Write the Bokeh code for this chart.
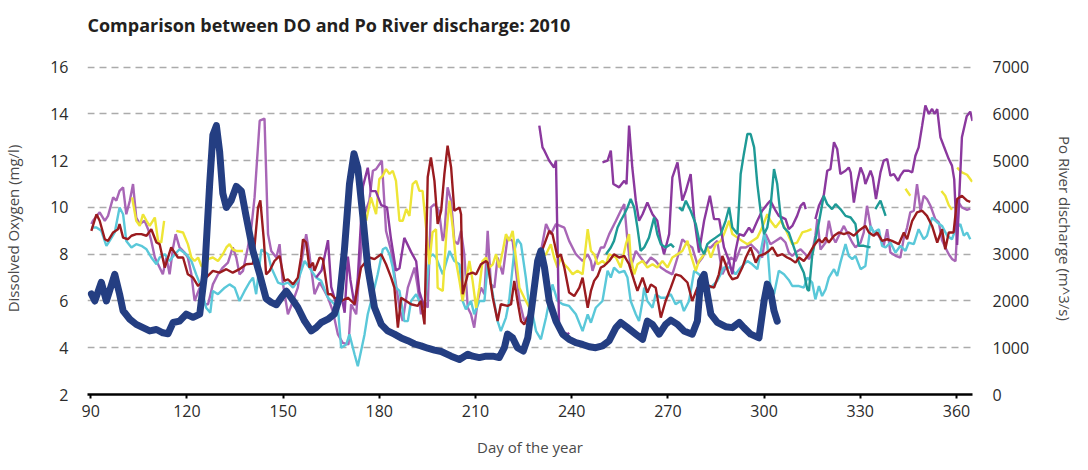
import numpy as np
from bokeh.plotting import figure
from bokeh.models import Range1d, LinearAxis, FixedTicker, Title
from bokeh.embed import file_html
from bokeh.resources import INLINE

# ---------------- data ----------------
x_ticks = [90, 120, 150, 180, 210, 240, 270, 300, 330, 360]
do_ticks = [2, 4, 6, 8, 10, 12, 14, 16]
grid_ticks = [4, 6, 8, 10, 12, 14, 16]
q_ticks = [0, 1000, 2000, 3000, 4000, 5000, 6000, 7000]

# Po River discharge (m^3/s)
q_day = [90.2, 91.3, 93.3, 94.9, 97.5, 99.0, 100.1, 102.2, 104.2, 106.3, 108.4, 110.5, 112.5, 114.1, 115.7,
         117.7, 119.8, 121.9, 124.0, 125.5, 127.1, 128.1, 129.2, 130.2, 131.2, 132.3, 133.8, 135.4, 137.0,
         138.5, 140.6, 142.7, 144.7, 146.3, 147.9, 149.4, 151.0, 152.5, 154.6, 156.7, 158.8, 160.3, 161.9,
         164.0, 166.0, 167.6, 169.1, 170.7, 172.1, 173.3, 174.9, 176.4, 178.5, 180.6, 182.6, 184.7, 186.8,
         188.9, 191.0, 193.0, 195.1, 197.2, 199.3, 202.4, 205.0, 207.6, 209.1, 211.2, 213.3, 215.4, 217.4,
         219.0, 220.0, 221.6, 223.1, 224.9, 226.3, 227.8, 229.4, 230.4, 231.5, 233.0, 235.1, 237.2, 239.2,
         241.3, 243.4, 245.5, 247.5, 249.6, 251.7, 253.8, 255.3, 257.4, 260.0, 262.1, 263.6, 265.2, 267.3,
         269.3, 270.9, 273.0, 275.0, 277.6, 279.2, 280.2, 281.3, 282.3, 283.4, 285.4, 288.0, 290.1, 292.2,
         293.7, 295.8, 298.4, 300.0, 301.0, 302.0, 303.1, 304.1]
q_val = [2150, 2000, 2400, 2000, 2570, 2150, 1790, 1610, 1500, 1430, 1360, 1390, 1320, 1300, 1540,
         1570, 1720, 1650, 1720, 2570, 4500, 5550, 5750, 5200, 4300, 4000, 4150, 4450, 4350,
         3800, 3070, 2570, 2050, 1970, 1920, 2070, 2210, 2070, 1860, 1570, 1360, 1430, 1540,
         1610, 1720, 2070, 3070, 4500, 5150, 4850, 3790, 2720, 1860, 1500, 1360, 1290, 1210,
         1150, 1080, 1040, 990, 950, 920, 820, 750, 860, 820, 790, 820, 820, 790,
         1000, 1290, 1210, 1000, 930, 1210, 2000, 2860, 3070, 2720, 2000, 1570, 1290, 1180,
         1110, 1070, 1020, 1000, 1040, 1150, 1430, 1540, 1430, 1290, 1180, 1570, 1500, 1290,
         1500, 1590, 1500, 1360, 1290, 1570, 2430, 2570, 2150, 1720, 1540, 1450, 1430, 1540,
         1430, 1290, 1210, 2000, 2360, 2210, 1790, 1570]

# Dissolved oxygen (mg/l), station series; None marks a gap
red_day = [90.2, 91.8, 92.8, 94.4, 95.4, 97.0, 98.5, 99.0, 100.1, 101.6, 102.7, 104.2, 105.8, 107.4, 108.9,
           110.5, 111.5, 113.1, 115.1, 117.2, 118.8, 120.3, 121.9, 123.5, 126.0, 128.1, 130.2, 132.3, 134.3,
           136.4, 138.5, 140.6, 142.2, 142.9, 144.0, 144.7, 145.8, 147.3, 148.9, 150.4, 151.5, 153.1, 154.6,
           155.6, 156.2, 157.2, 158.2, 159.3, 159.8, 161.4, 162.4, 164.0, 165.0, 166.0, 168.1, 170.2, 172.3,
           174.3, 176.9, 178.5, 180.6, 182.1, 183.7, 184.7, 185.8, 186.8, 188.4, 189.9, 192.0, 193.0, 194.1,
           195.1, 196.1, 197.2, 198.2, 199.3, 200.3, 201.3, 202.4, 203.4, 205.0, 205.5, 206.0, 207.6, 209.1,
           210.2, 211.7, 213.3, 213.8, 215.4, 216.9, 217.9, 220.0, 221.1, 222.1, 223.1, 224.2, 225.2, 226.8,
           227.8, 229.4, 230.9, 233.0, 234.0, 235.6, 236.6, 237.7, 239.2, 240.8, 242.4, 243.4, 245.0, 246.0,
           247.0, 248.1, 249.1, 250.1, 251.7, 253.2, 254.8, 256.4, 257.9, 259.5, 260.5, 262.1, 263.6, 264.7,
           266.2, 267.8, 269.3, 270.9, 272.4, 274.0, 276.1, 277.6, 279.2, 280.8, 282.8, 284.4, 285.9, 287.0,
           288.0, 289.1, 290.1, 291.7, 293.2, 294.3, 295.8, 297.4, 298.4, 300.0, 301.5, 302.6, 304.1, 305.7,
           307.2, 308.3, 309.8, 310.9, 312.4, 314.0, 315.5, 317.1, 318.1, 319.2, 320.2, 321.8, 323.3, 324.9,
           326.4, 328.0, 329.5, 331.6, 332.7, 334.2, 335.3, 336.8, 338.4, 339.9, 342.0, 343.6, 344.6, 346.2,
           347.7, 349.3, 350.8, 352.4, 354.0, 355.5, 356.5, 357.6, 359.1, 360.2, 361.7, 363.3, 364.3]
red_do = [9.0, 9.71, 9.43, 8.64, 8.57, 8.93, 9.07, 9.29, 8.71, 8.64, 8.79, 8.86, 8.86, 8.79, 9.07,
          8.5, 8.43, 7.43, 8.29, 7.86, 7.86, 7.14, 7.0, 6.64, 7.0, 7.29, 7.21, 7.36, 7.21,
          7.36, 7.57, 7.6, 10.0, 10.3, 8.6, 7.14, 7.29, 7.71, 7.93, 6.86, 6.93, 6.71, 7.0,
          7.86, 8.64, 8.5, 7.43, 7.64, 7.29, 7.86, 7.79, 6.29, 6.29, 6.14, 6.0, 6.14, 5.86,
          7.43, 7.86, 7.79, 8.0, 7.57, 7.0, 6.57, 4.86, 6.14, 6.0, 5.86, 5.79, 6.0, 5.0,
          11.29, 12.14, 11.14, 9.3, 9.86, 11.43, 12.64, 11.71, 9.86, 10.0, 9.71, 6.29, 7.14, 7.21,
          7.14, 7.57, 7.71, 7.64, 6.14, 5.14, 5.86, 5.79, 5.86, 6.86, 6.0, 5.14, 5.0, 5.43,
          6.29, 8.0, 8.21, 9.0, 8.86, 7.86, 8.0, 7.43, 6.36, 6.21, 6.57, 7.0, 5.71, 6.43,
          6.86, 7.07, 7.43, 7.5, 7.71, 8.0, 7.86, 7.93, 7.57, 6.86, 6.43, 7.0, 6.36, 6.71,
          6.57, 5.29, 6.0, 6.57, 7.14, 7.07, 6.79, 6.0, 6.57, 6.64, 6.64, 6.57, 7.14, 7.93,
          7.57, 7.14, 6.93, 7.0, 7.43, 7.86, 8.29, 7.64, 7.93, 8.0, 8.14, 8.29, 7.93, 8.0,
          7.86, 7.79, 7.64, 7.86, 7.71, 8.0, 8.36, 8.64, 8.5, 8.71, 8.5, 8.79, 8.93, 8.86,
          8.93, 8.79, 9.0, 9.21, 8.93, 8.79, 8.93, 8.57, 8.64, 8.57, 8.43, 8.93, 8.64, 9.43,
          9.79, 9.86, 9.64, 9.21, 8.5, 9.07, 8.21, 8.93, 8.93, 10.36, 10.5, 10.29, 10.24]

cyan_day = [90.2, 91.8, 93.3, 94.9, 95.9, 97.5, 99.0, 100.1, 101.1, 102.7, 104.2, 105.8, 107.4, 108.9, 110.5,
            111.5, 113.1, 114.6, 116.2, 117.7, 119.8, 121.4, 122.9, 124.5, 126.0, 127.3, 128.1, 129.7, 131.8,
            133.3, 134.9, 136.4, 138.0, 139.5, 140.6, 141.6, 143.2, 145.3, 146.3, 148.4, 149.9, 151.5, 153.1,
            154.6, 156.7, 158.2, 160.3, 161.9, 164.0, 165.0, 167.1, 168.1, 169.7, 170.7, 172.3, 173.3, 175.4,
            176.4, 178.0, 179.5, 181.1, 182.1, 183.2, 184.2, 185.2, 186.3, 187.8, 188.9, 189.9, 191.5, 192.5,
            194.1, 195.6, 196.6, 197.7, 199.8, 201.9, 203.4, 205.0, 206.0, 207.0, 208.6, 209.6, 211.2, 212.8,
            213.8, 215.4, 216.9, 217.9, 219.5, 220.5, 222.1, 223.1, 224.2, 225.7, 226.8, 227.8, 228.9, 230.4,
            232.0, 234.0, 235.6, 237.2, 239.2, 241.3, 243.4, 245.0, 246.0, 247.5, 249.6, 251.2, 252.2, 253.2,
            254.8, 256.4, 257.4, 258.4, 260.0, 261.0, 262.1, 262.6, 263.6, 265.2, 266.2, 267.8, 269.3, 270.9,
            272.4, 274.0, 275.0, 276.6, 278.2, 279.7, 281.3, 283.4, 285.4, 287.5, 289.6, 291.1, 292.7, 294.8,
            296.3, 297.9, 300.0, 301.0, 302.0, 303.1, 304.6, 306.2, 307.7, 308.8, 310.9, 312.4, 313.5, 315.0,
            316.0, 317.1, 318.1, 319.2, 320.2, 321.8, 322.8, 323.8, 325.4, 326.4, 327.5, 328.5, 330.1, 331.6,
            333.2, 334.2, 335.8, 336.8, 337.9, 339.4, 341.0, 342.5, 344.1, 345.1, 346.7, 348.2, 349.8, 350.8,
            352.4, 354.0, 355.5, 357.1, 358.6, 359.7, 361.2, 362.3, 363.3, 364.3]
cyan_do = [9.14, 9.14, 9.0, 8.36, 8.57, 8.93, 10.0, 9.71, 8.57, 8.29, 8.43, 8.36, 8.21, 7.86, 7.57,
           7.86, 8.0, 7.71, 8.0, 8.21, 8.0, 7.71, 7.14, 6.57, 5.71, 5.5, 6.43, 6.29, 6.57,
           6.71, 6.57, 6.0, 6.43, 6.79, 7.0, 6.29, 8.2, 8.0, 7.43, 6.79, 6.71, 6.79, 6.57,
           6.86, 7.71, 7.43, 7.0, 6.86, 6.14, 6.0, 5.71, 4.0, 4.14, 4.57, 3.71, 3.21, 4.57,
           5.43, 6.29, 7.14, 8.21, 8.29, 8.0, 7.43, 6.57, 6.43, 5.14, 5.14, 6.0, 6.29, 6.0,
           5.71, 7.86, 8.0, 7.86, 7.14, 8.14, 7.71, 7.57, 6.0, 5.64, 6.0, 5.43, 6.0, 6.0,
           7.57, 6.29, 5.14, 4.71, 5.29, 6.0, 8.14, 8.64, 8.43, 7.0, 5.71, 5.43, 4.71, 4.36,
           5.29, 6.71, 6.0, 5.86, 5.79, 5.43, 4.71, 5.43, 5.07, 5.71, 6.0, 7.29, 7.0, 7.43,
           7.21, 7.29, 7.0, 6.0, 5.43, 5.14, 6.0, 6.57, 6.0, 5.71, 6.29, 6.14, 6.14, 6.29,
           5.86, 6.0, 5.57, 6.0, 7.29, 7.14, 6.86, 6.57, 6.86, 7.43, 7.43, 7.14, 7.43, 7.71,
           7.57, 7.36, 8.86, 8.43, 6.57, 6.29, 7.29, 7.14, 6.9, 6.64, 6.64, 6.57, 7.0, 6.79,
           6.07, 6.64, 6.21, 6.5, 7.0, 7.36, 7.07, 7.64, 8.43, 7.93, 7.79, 7.93, 7.36, 7.5,
           9.21, 8.93, 9.07, 8.36, 8.29, 8.5, 8.07, 8.36, 8.14, 8.5, 8.43, 9.07, 8.64, 8.79,
           9.57, 9.36, 9.21, 8.79, 8.64, 9.07, 9.29, 8.79, 8.93, 8.64]

orchid_day = [90.2, 90.7, 92.8, 94.4, 95.4, 97.0, 98.0, 99.0, 100.1, 101.1, 102.2, 103.2, 104.2, 105.3, 106.8,
              107.9, 108.9, 110.0, 111.0, 112.5, 113.6, 114.6, 115.7, 116.5, 117.7, 119.3, 120.3, 121.4, 122.4,
              124.0, 125.0, 126.6, 128.1, 129.7, 131.2, 132.8, 134.3, 135.4, 136.4, 137.5, 139.0, 140.1, 141.1,
              142.7, 144.2, 145.3, 146.3, 147.9, 148.9, 149.9, 151.0, 151.5, 153.1, 154.6, 155.6, 157.2, 158.2,
              159.8, 161.4, 162.9, 164.0, 165.5, 167.1, 168.6, 170.4, 171.2, 172.8, 174.3, 175.4, 176.9, 178.0,
              179.0, 180.8, 182.1, 183.7, 185.2, 186.3, 187.3, 188.9, 191.0, 192.0, 193.0, 194.1, 195.1, 196.1,
              197.2, 198.6, 199.8, 200.3, 201.3, 202.4, 203.4, 204.5, 205.5, 206.5, 207.6, 208.6, 209.6, 210.7,
              211.7, 212.8, 213.8, 214.8, 215.9, 216.9, 218.5, 220.0, 221.6, 223.7, 225.2, 226.8, 228.9, 232.0,
              233.5, 235.1, 237.7, 239.2, 241.3, 243.4, 245.0, 246.0, 246.5, 247.5, 249.1, 250.1, 251.7, 253.8,
              255.3, 256.4, 257.4, 258.4, 260.0, 261.5, 263.1, 264.7, 266.2, 267.8, 269.3, 271.4, 273.0, 274.5,
              276.1, 277.6, 279.2, 280.8, 282.3, 283.4, 285.4, 287.0, 288.5, 289.6, 291.1, 292.7, 294.3, 295.8,
              297.9, 299.4, 300.5, 302.0, 303.6, 305.2, 306.7, 307.7, 308.8, 309.8, 311.4, 312.9, 314.0, 315.0,
              316.0, 316.6, 317.6, 319.2, 320.2, 321.2, 322.3, 323.3, 324.9, 325.9, 327.5, 328.5, 330.1, 331.1,
              332.1, 333.2, 334.2, 335.8, 337.3, 338.4, 339.4, 341.0, 342.5, 343.6, 344.6, 345.6, 346.7, 347.7,
              348.8, 349.8, 350.8, 351.9, 353.4, 354.5, 355.5, 356.5, 357.6, 358.6, 359.7, 360.7, 361.7, 363.3,
              364.3]
orchid_do = [9.29, 9.43, 9.79, 9.43, 9.64, 10.43, 10.29, 10.71, 10.86, 9.71, 10.29, 11.0, 9.57, 9.29, 9.43,
             9.07, 8.57, 7.86, 7.57, 7.14, 7.86, 7.14, 8.29, 8.86, 8.29, 8.07, 7.86, 7.14, 6.0,
             6.57, 5.86, 5.86, 6.71, 7.14, 7.43, 7.64, 8.29, 7.86, 7.14, 7.29, 8.29, 9.14, 10.43,
             13.71, 13.8, 8.86, 8.14, 7.86, 8.43, 6.79, 5.86, 5.43, 6.0, 6.57, 7.57, 8.86, 8.0,
             6.29, 6.79, 6.43, 6.14, 5.57, 4.57, 4.21, 4.14, 5.86, 5.43, 8.14, 9.71, 10.29, 11.57,
             11.64, 12.0, 9.0, 8.14, 6.71, 5.71, 5.14, 6.57, 7.43, 6.57, 5.43, 6.0, 5.71, 10.0,
             10.14, 9.86, 8.57, 8.86, 10.86, 10.29, 8.57, 8.43, 9.0, 8.0, 5.71, 5.43, 4.86, 6.0,
             6.57, 6.29, 9.0, 6.71, 6.57, 7.86, 7.14, 8.71, 8.57, 6.0, 5.14, 5.43, 7.0, 9.29,
             8.86, 9.29, 9.14, 8.57, 8.0, 7.71, 8.0, 7.71, 7.29, 7.71, 8.29, 8.29, 8.86, 9.43,
             9.86, 10.14, 8.57, 7.43, 8.14, 7.86, 7.57, 7.86, 7.71, 7.43, 7.29, 7.14, 7.86, 8.64,
             8.43, 8.29, 7.57, 7.86, 8.29, 8.29, 8.57, 7.14, 7.57, 7.86, 7.71, 8.29, 8.29, 8.43,
             8.14, 7.86, 8.86, 8.43, 8.57, 8.71, 8.5, 8.07, 7.93, 8.07, 8.21, 8.0, 7.79, 8.07,
             8.79, 9.5, 8.2, 8.5, 9.43, 8.79, 8.5, 8.79, 9.21, 8.93, 8.5, 8.29, 8.5, 8.93,
             10.07, 9.21, 8.93, 8.79, 8.36, 9.07, 8.07, 7.93, 7.86, 8.71, 9.14, 9.79, 9.86, 11.0,
             9.86, 10.5, 10.36, 10.07, 9.5, 9.36, 8.6, 8.3, 8.0, 7.8, 7.7, 10.2, 10.0, 9.9,
             9.95]

purple_day = [160.3, 162.0, 164.0, 165.0, 166.5, 167.8, 169.2, 170.2, 171.0, 172.3, 173.3, 174.9, 176.4, 177.4,
              178.9, 180.6, 182.4, 183.6, 185.2, 186.3, 187.8, 189.9, 191.5, 192.5, 194.1, None,
              229.9, 230.9, 231.5, 233.0, 234.5, 235.1, 236.1, 237.2, 238.7, 239.2, None,
              249.6, 251.2, 252.2, 253.0, 254.8, 256.4, 257.1, 257.9, 258.9, 260.0, 261.0, 262.1, 263.6, 265.2,
              266.7, 267.8, 268.8, 270.4, 271.4, 273.0, 274.5, 275.6, 277.1, 278.2, 279.7, 281.3, 283.1, 284.4,
              286.0, 287.5, 289.1, 290.1, 291.1, 292.2, 293.7, 295.3, 296.3, 297.9, 299.4, 301.0, 302.0, 303.6,
              304.6, 306.7, 307.7, 308.8, 310.3, 311.4, 312.4, 313.0, None,
              316.0, 317.1, 318.6, 319.7, 320.7, 321.8, 322.8, 323.8, 325.4, 326.4, 327.0, 328.0, 329.0, 330.1,
              331.1, 331.6, 333.2, 333.9, 334.9, 336.3, 337.3, 338.4, 339.4, 340.5, 341.8, 342.5, 343.6, 345.1,
              346.2, 347.2, 348.2, 349.3, 350.3, 351.4, 352.4, 353.2, 354.0, 355.0, 356.0, 357.6, 358.6, 359.3,
              360.2, 361.7, 363.2, 364.3, 365.0]
purple_do = [7.0, 7.3, 8.6, 6.6, 5.9, 6.5, 5.5, 7.9, 6.9, 5.8, 7.0, 10.9, 11.7, 10.7,
             10.7, 10.1, 10.0, 8.7, 7.3, 7.4, 8.7, 8.1, 7.7, 6.4, 5.7, None,
             13.5, 12.57, 12.43, 12.0, 11.71, 12.0, 4.71, 4.71, 4.57, 4.64, None,
             11.93, 12.0, 12.43, 11.0, 10.86, 11.14, 11.0, 13.5, 11.71, 10.29, 9.43, 9.71, 10.21, 9.71,
             9.43, 8.57, 8.0, 8.86, 11.29, 11.93, 10.29, 10.71, 11.43, 9.57, 8.07, 9.43, 10.5, 9.5,
             9.5, 8.29, 7.71, 7.14, 8.14, 8.86, 8.79, 9.14, 8.93, 9.43, 9.86, 10.14, 10.29, 9.86,
             9.64, 9.5, 9.07, 9.21, 9.64, 10.07, 10.21, 9.93, None,
             9.5, 10.07, 10.5, 11.57, 11.64, 12.79, 12.5, 11.43, 11.57, 11.71, 11.5, 10.21, 11.07, 11.71,
             11.36, 11.0, 11.57, 11.29, 10.36, 11.5, 12.0, 12.07, 11.36, 11.43, 11.14, 11.36, 11.57, 11.57,
             11.5, 12.21, 12.57, 13.5, 14.36, 14.0, 14.21, 14.0, 14.21, 13.0, 12.64, 12.07, 11.79, 11.2,
             8.4, 13.0, 13.9, 14.1, 13.7]

yellow_day = [102.9, 104.2, 105.3, 106.3, 107.4, 108.4, 110.0, 111.0, 112.0, 112.9, None,
              116.7, 118.8, 120.3, 121.4, 122.4, 123.5, 124.5, 125.5, 126.6, 128.1, 129.7, 131.2, 132.3, 133.3,
              134.3, 135.4, 136.4, 137.5, None,
              175.9, 177.4, 179.0, 180.0, 181.1, 182.1, 183.2, 184.2, 185.2, 186.3, 187.3, 188.4, 189.4, 190.4,
              191.5, 192.5, 193.5, 194.6, 195.6, 196.6, 197.7, 198.2, 199.8, 200.9, 201.9, 202.9, 203.9, 205.0,
              206.0, 207.0, 208.1, 209.1, 210.2, 211.2, 212.2, 213.3, 214.3, 215.4, 216.4, 217.4, 218.5, 219.5,
              220.5, 221.6, 222.6, 223.7, 225.2, 226.8, 227.8, 228.9, 230.4, 232.0, 233.5, 234.5, 235.6, 236.6,
              237.7, 238.7, 240.3, 241.8, 243.4, 245.0, 246.0, 247.0, 248.1, 249.6, 250.7, 251.7, 253.8, 255.3,
              256.9, 257.9, 258.4, 259.5, 260.5, 262.1, 263.6, 265.2, 266.7, 268.3, 269.9, 271.4, 273.0, 274.5,
              276.1, 277.1, 278.7, 279.7, 281.3, 282.3, 283.4, 284.9, 286.5, 287.5, 289.1, 290.1, 291.7, 293.2,
              294.8, 296.3, 297.9, 299.4, 301.0, 302.0, 303.6, 305.2, 306.7, 308.8, 310.3, 311.9, 313.5, 314.8,
              None, 344.1, 345.6, None, 355.3, 356.5, 357.6, 358.6, None, 360.2, 361.7, 363.3, 364.9]
yellow_do = [10.43, 9.43, 9.21, 9.71, 9.43, 9.21, 9.57, 8.57, 8.5, 9.43, None,
             9.0, 8.93, 8.43, 7.86, 7.71, 7.86, 7.5, 7.43, 7.79, 7.86, 7.71, 8.0, 8.29, 8.43,
             8.21, 8.14, 8.14, 8.14, None,
             9.43, 10.43, 9.71, 11.21, 11.36, 11.64, 11.43, 11.57, 11.14, 9.43, 9.43, 9.93, 9.64, 11.0,
             11.14, 10.71, 10.71, 9.14, 7.57, 8.93, 9.07, 6.57, 6.43, 8.86, 10.29, 9.14, 7.71, 6.86,
             6.0, 6.86, 7.71, 6.86, 5.71, 6.57, 7.71, 7.86, 7.43, 7.57, 8.0, 7.43, 8.14, 8.86,
             8.57, 9.0, 7.86, 6.57, 6.14, 5.71, 6.29, 7.43, 7.86, 8.0, 8.43, 7.86, 7.43, 7.86,
             7.57, 7.43, 7.14, 7.29, 7.14, 9.07, 8.14, 8.0, 7.57, 7.71, 7.57, 8.0, 7.86, 7.43,
             8.43, 8.86, 7.86, 7.14, 7.57, 7.71, 7.43, 7.57, 7.43, 7.71, 7.43, 7.86, 8.0, 8.14,
             8.57, 8.0, 7.29, 7.71, 8.0, 8.29, 7.86, 8.43, 8.57, 8.86, 9.43, 8.86, 8.71, 8.57,
             8.43, 8.57, 8.71, 9.14, 9.71, 9.43, 9.14, 9.43, 9.07, 8.43, 8.5, 8.93, 9.0, 9.07,
             None, 10.8, 10.5, None, 10.7, 10.5, 10.1, 9.9, None, 11.7, 11.5, 11.4, 11.1]

teal_day = [250.7, 252.2, 253.2, 254.3, 255.3, 256.4, 257.4, 258.4, 259.5, 260.5, 261.5, 262.6, 264.1, 265.7,
            266.7, 267.8, 269.3, 270.9, 271.9, None,
            273.5, 274.5, 275.6, 277.1, 278.7, 280.2, 281.3, 282.3, 283.4, 284.9, 286.5, 288.0, 289.1, 290.1,
            291.7, 292.7, 293.7, 294.8, 295.8, 296.9, 297.9, 298.9, 300.0, 301.0, 302.0, 303.1, 304.1, 305.2,
            306.2, 307.7, 308.8, 310.9, 312.4, 313.5, 314.0, 315.0, 317.1, 318.6, 319.7, 321.2, 322.3, 323.8,
            325.4, 327.0, 328.5, 329.5, 331.1, 333.2, None, 334.7, 336.3, 337.9]
teal_do = [8.0, 8.29, 8.57, 9.14, 9.43, 9.71, 10.0, 10.36, 10.0, 9.14, 8.14, 8.29, 8.71, 9.57,
           8.86, 8.43, 8.29, 8.43, 8.29, None,
           10.0, 9.86, 10.29, 9.86, 9.29, 8.29, 8.0, 8.43, 8.57, 8.71, 8.86, 9.43, 10.0, 9.14,
           8.86, 11.43, 12.29, 13.14, 13.14, 12.57, 11.0, 9.86, 8.86, 9.14, 10.0, 11.64, 11.0, 9.57,
           9.14, 8.93, 8.5, 7.64, 7.21, 6.5, 6.43, 7.93, 9.36, 10.5, 10.14, 9.93, 10.14, 9.93,
           9.64, 9.57, 9.29, 8.36, 8.36, 8.29, None, 9.93, 10.29, 9.64]


def arr(a):
    return np.array(a, dtype=float)


# ---------------- figure ----------------
TXT = "#2b2b2b"
FONT = "Open Sans"

p = figure(width=1080, height=462, output_backend="svg", toolbar_location=None,
           x_range=Range1d(89, 365), y_range=Range1d(2, 16.2),
           min_border_left=86, min_border_right=108, min_border_top=62, min_border_bottom=68,
           background_fill_color="white", border_fill_color="white")
p.outline_line_color = None
p.extra_y_ranges = {"q": Range1d(0, 7100)}

p.title.text = "Comparison between DO and Po River discharge: 2010"
p.title.text_font = FONT
p.title.text_font_style = "bold"
p.title.text_font_size = "18px"
p.title.text_color = "#231f20"
p.title.align = "left"
p.title.offset = 0
p.title.standoff = 0

# invisible spacer between the frame and the title (sits next to the frame)
spacer = Title(text=" ", text_font_size="1px", standoff=23)
p.add_layout(spacer, "above")

# grid
p.xgrid.visible = False
p.ygrid.ticker = FixedTicker(ticks=grid_ticks)
p.ygrid.grid_line_color = "#ababab"
p.ygrid.grid_line_width = 1.4
p.ygrid.grid_line_dash = "7 5"

# x axis
xa = p.xaxis[0]
xa.ticker = FixedTicker(ticks=x_ticks)
xa.axis_line_color = "black"
xa.axis_line_width = 2.5
xa.major_tick_line_color = "black"
xa.major_tick_line_width = 2
xa.major_tick_out = 4
xa.major_tick_in = 0
xa.minor_tick_line_color = None
xa.major_label_standoff = 6
xa.major_label_text_font = FONT
xa.major_label_text_font_size = "16px"
xa.major_label_text_color = TXT
xa.axis_label = "Day of the year"
xa.axis_label_text_font = FONT
xa.axis_label_text_font_style = "normal"
xa.axis_label_text_font_size = "15px"
xa.axis_label_text_color = "#4a4a4a"
xa.axis_label_standoff = 17

# left axis
ya = p.yaxis[0]
ya.ticker = FixedTicker(ticks=do_ticks)
ya.axis_line_color = None
ya.major_tick_line_color = None
ya.minor_tick_line_color = None
ya.major_tick_out = 0
ya.major_tick_in = 0
ya.major_label_standoff = 19
ya.major_label_text_font = FONT
ya.major_label_text_font_size = "16px"
ya.major_label_text_color = TXT
ya.axis_label = "Dissolved Oxygen (mg/l)"
ya.axis_label_text_font = FONT
ya.axis_label_text_font_style = "normal"
ya.axis_label_text_font_size = "15px"
ya.axis_label_text_color = "#4a4a4a"
ya.axis_label_standoff = 24

# right axis
ra = LinearAxis(y_range_name="q", ticker=FixedTicker(ticks=q_ticks))
ra.axis_line_color = None
ra.major_tick_line_color = None
ra.minor_tick_line_color = None
ra.major_tick_out = 0
ra.major_tick_in = 0
ra.major_label_standoff = 20
ra.major_label_text_font = FONT
ra.major_label_text_font_size = "16px"
ra.major_label_text_color = TXT
ra.axis_label = "Po River discharge (m^3/s)"
ra.axis_label_text_font = FONT
ra.axis_label_text_font_style = "normal"
ra.axis_label_text_font_size = "15px"
ra.axis_label_text_color = "#4a4a4a"
ra.axis_label_standoff = 23
p.add_layout(ra, "right")

# series
LW = 2.4
p.line(arr(orchid_day), arr(orchid_do), line_color="#a866b6", line_width=LW)
p.line(arr(cyan_day), arr(cyan_do), line_color="#5ac8d9", line_width=LW)
p.line(arr(yellow_day), arr(yellow_do), line_color="#eee536", line_width=LW)
p.line(arr(purple_day), arr(purple_do), line_color="#8b389e", line_width=LW)
p.line(arr(teal_day), arr(teal_do), line_color="#1e9a96", line_width=LW)
p.line(arr(red_day), arr(red_do), line_color="#9a1b1f", line_width=LW)
p.line(arr(q_day), arr(q_val), y_range_name="q", line_color="#243e82", line_width=7,
       line_join="round", line_cap="round")

open("out.html", "w").write(file_html(p, INLINE))
